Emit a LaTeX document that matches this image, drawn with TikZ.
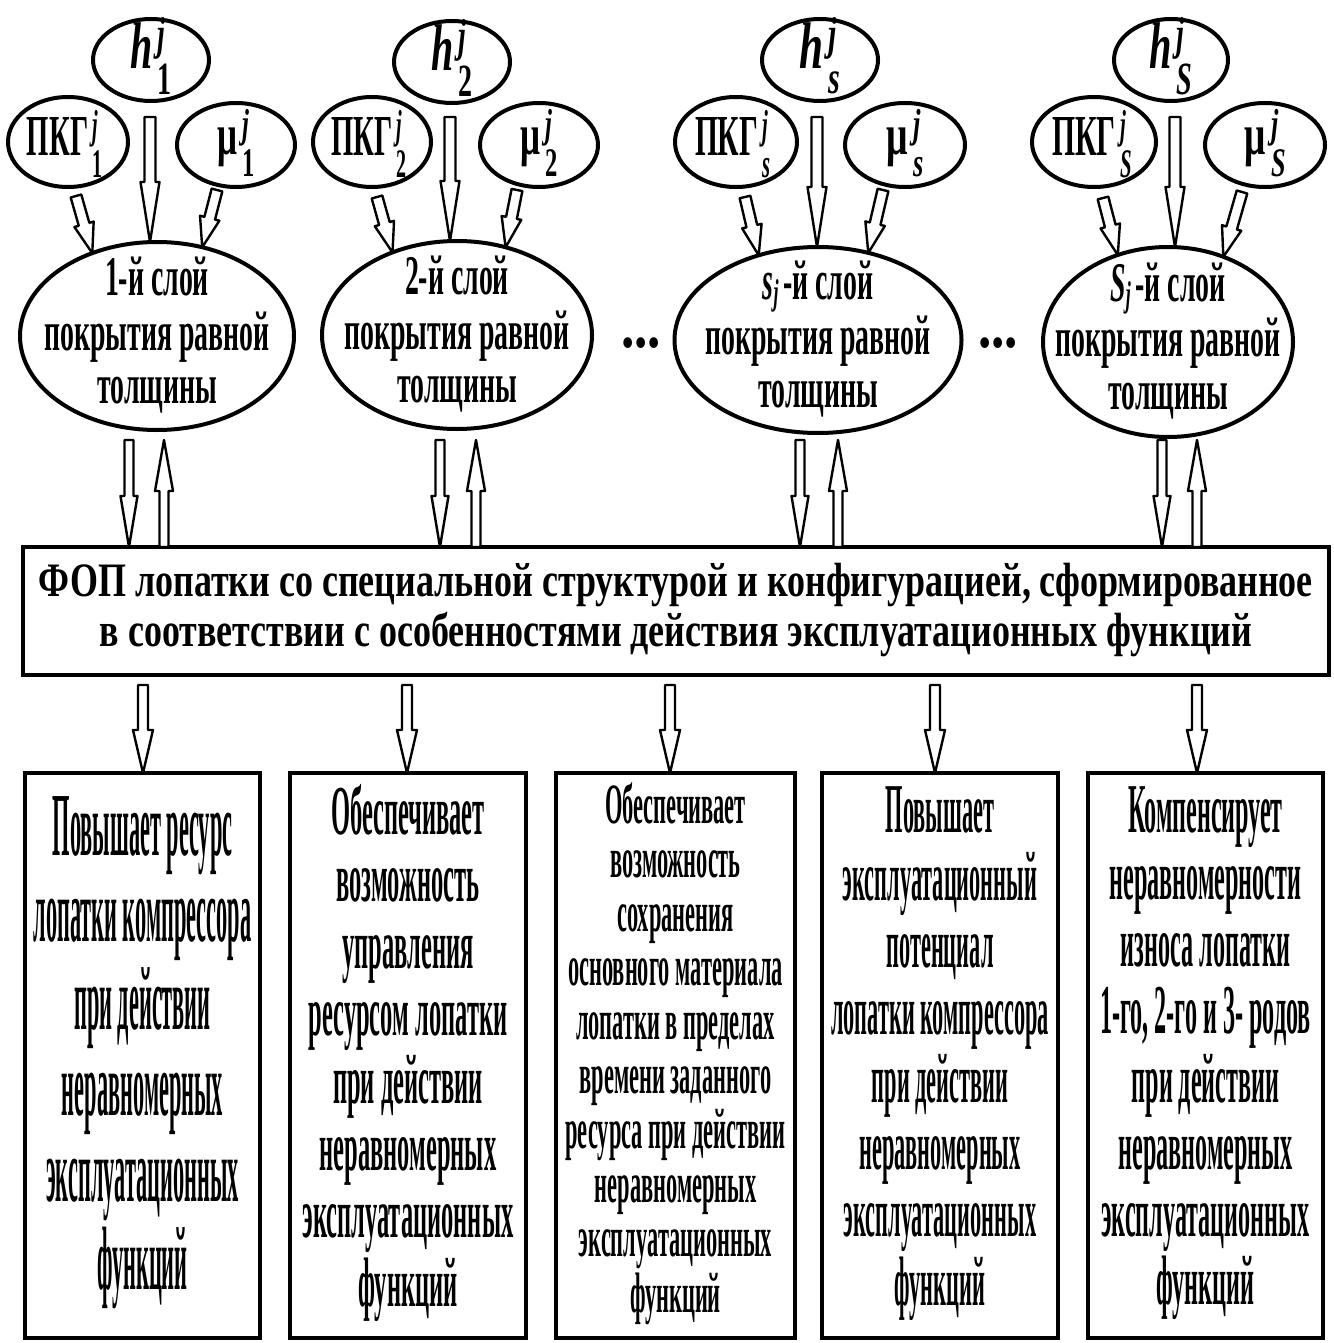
\documentclass[tikz,border=0pt]{standalone}
\usepackage{fontspec}
\setmainfont{Liberation Serif}
\usepackage{amsmath}
\usepackage{graphicx}
\usetikzlibrary{shapes.geometric,calc}

% squeeze a block horizontally to a given width, keeping its height
\newcommand\fitwidth[2]{\resizebox{#1}{\height}{#2}}
% centred stack of lines
\newcommand\stacklines[1]{\begin{tabular}{@{}c@{}}#1\end{tabular}}
% symbol with superscript j and a subscript
\newcommand\symidx[2]{#1\kern9pt\(^{\text{\itshape j}}_{\text{#2\vphantom{1}}}\)}
% small italic j set as a subscript of a layer number
\newcommand\subj{\raisebox{-5pt}{\fontsize{36}{36}\selectfont\itshape j}}

% hollow block arrow from #1 (tail) to #2 (tip)
% #3 shaft half-width, #4 head half-width, #5 head length
\newcommand\blockarrow[5]{%
  \path ($(#2)!#5!(#1)$) coordinate (headbase);
  \draw[hollow] ($(#1)!#3!90:(#2)$) -- ($(headbase)!#3!90:(#2)$)
    -- ($(headbase)!#4!90:(#2)$) -- (#2)
    -- ($(headbase)!#4!-90:(#2)$) -- ($(headbase)!#3!-90:(#2)$)
    -- ($(#1)!#3!-90:(#2)$) -- cycle;}

\begin{document}
\begin{tikzpicture}[x=1pt,y=-1pt,
  oval/.style={ellipse, draw, line width=4pt, inner sep=0pt, outer sep=0pt},
  frame/.style={rectangle, draw, line width=4.5pt, inner sep=0pt, outer sep=0pt, font=\bfseries},
  txt/.style={inner sep=0pt, font=\bfseries},
  hollow/.style={draw, fill=white, line width=2.4pt, line join=round}]

\fill[white] (0,0) rectangle (1333,1343);
\useasboundingbox (0,0) rectangle (1333,1343);

% ---------- layer groups ----------
% group 1
\node[oval, minimum width=116pt, minimum height=82pt] (h1) at (151,60) {};
\node[oval, minimum width=120pt, minimum height=90pt] (p1) at (68,142) {};
\node[oval, minimum width=118pt, minimum height=84pt] (m1) at (236,145) {};
\node[oval, minimum width=274pt, minimum height=188pt] (L1) at (157,336) {};
\node[txt] (h1t) at (151,56) {\fitwidth{42pt}{\fontsize{66}{66}\selectfont\symidx{\textit{h}}{1}}};
\node[txt] (p1t) at (65,144) {\fitwidth{76pt}{\fontsize{58}{58}\selectfont\symidx{ПКГ}{1}}};
\node[txt] (m1t) at (236,143) {\fitwidth{38pt}{\fontsize{58}{58}\selectfont\symidx{μ}{1}}};
\node[txt] (L1t) at (157,338) {\fitwidth{225pt}{\fontsize{56}{53}\selectfont\stacklines{1-й слой\\покрытия равной\\толщины}}};

% group 2
\node[oval, minimum width=116pt, minimum height=82pt] (h2) at (452,62) {};
\node[oval, minimum width=118pt, minimum height=90pt] (p2) at (372,142) {};
\node[oval, minimum width=118pt, minimum height=84pt] (m2) at (539,145) {};
\node[oval, minimum width=270pt, minimum height=188pt] (L2) at (457,335) {};
\node[txt] (h2t) at (452,58) {\fitwidth{42pt}{\fontsize{66}{66}\selectfont\symidx{\textit{h}}{2}}};
\node[txt] (p2t) at (369,144) {\fitwidth{76pt}{\fontsize{58}{58}\selectfont\symidx{ПКГ}{2}}};
\node[txt] (m2t) at (539,143) {\fitwidth{38pt}{\fontsize{58}{58}\selectfont\symidx{μ}{2}}};
\node[txt] (L2t) at (457,337) {\fitwidth{225pt}{\fontsize{56}{53}\selectfont\stacklines{2-й слой\\покрытия равной\\толщины}}};

% group 3
\node[oval, minimum width=116pt, minimum height=82pt] (h3) at (820,60) {};
\node[oval, minimum width=122pt, minimum height=90pt] (p3) at (736,142) {};
\node[oval, minimum width=120pt, minimum height=84pt] (m3) at (905,145) {};
\node[oval, minimum width=287pt, minimum height=186pt] (L3) at (818,340) {};
\node[txt] (h3t) at (820,56) {\fitwidth{42pt}{\fontsize{66}{66}\selectfont\symidx{\textit{h}}{\itshape s}}};
\node[txt] (p3t) at (733,144) {\fitwidth{76pt}{\fontsize{58}{58}\selectfont\symidx{ПКГ}{\itshape s}}};
\node[txt] (m3t) at (905,143) {\fitwidth{38pt}{\fontsize{58}{58}\selectfont\symidx{μ}{\itshape s}}};
\node[txt] (L3t) at (818,342) {\fitwidth{225pt}{\fontsize{56}{53}\selectfont\stacklines{\textit{s}\subj\,-й слой\\покрытия равной\\толщины}}};

% group 4
\node[oval, minimum width=114pt, minimum height=82pt] (h4) at (1171,60) {};
\node[oval, minimum width=124pt, minimum height=90pt] (p4) at (1094,142) {};
\node[oval, minimum width=120pt, minimum height=84pt] (m4) at (1265,145) {};
\node[oval, minimum width=250pt, minimum height=190pt] (L4) at (1168,342) {};
\node[txt] (h4t) at (1171,56) {\fitwidth{44pt}{\fontsize{66}{66}\selectfont\symidx{\textit{h}}{\itshape S}}};
\node[txt] (p4t) at (1092,144) {\fitwidth{80pt}{\fontsize{58}{58}\selectfont\symidx{ПКГ}{\itshape S}}};
\node[txt] (m4t) at (1265,143) {\fitwidth{42pt}{\fontsize{58}{58}\selectfont\symidx{μ}{\itshape S}}};
\node[txt] (L4t) at (1168,344) {\fitwidth{225pt}{\fontsize{56}{53}\selectfont\stacklines{\textit{S}\subj\,-й слой\\покрытия равной\\толщины}}};

% ellipsis marks between groups
\node[txt] (dotsA) at (641,343) {\fitwidth{40pt}{\fontsize{66}{66}\selectfont...}};
\node[txt] (dotsB) at (998,343) {\fitwidth{40pt}{\fontsize{66}{66}\selectfont...}};

% ---------- central block ----------
\node[frame, minimum width=1306pt, minimum height=128pt] (F) at (676,611)
  {\fitwidth{1274pt}{\fontsize{48}{50}\selectfont\stacklines{ФОП лопатки со специальной структурой и конфигурацией, сформированное\\в соответствии с особенностями действия эксплуатационных функций}}};

% ---------- result blocks ----------
\node[frame, minimum width=235pt, minimum height=565pt] (B1) at (142.5,1055.5)
  {\fitwidth{218pt}{\fontsize{90}{86}\selectfont\stacklines{Повышает ресурс\\лопатки компрессора\\при действии\\неравномерных\\эксплуатационных\\функций}}};
\node[frame, minimum width=236pt, minimum height=565pt] (B2) at (408,1055.5)
  {\fitwidth{211pt}{\fontsize{70}{67}\selectfont\stacklines{Обеспечивает\\возможность\\управления\\ресурсом лопатки\\при действии\\неравномерных\\эксплуатационных\\функций}}};
\node[frame, minimum width=239pt, minimum height=565pt] (B3) at (675.5,1055.5)
  {\fitwidth{220pt}{\fontsize{57}{54}\selectfont\stacklines{Обеспечивает\\возможность\\сохранения\\основного материала\\лопатки в пределах\\времени заданного\\ресурса при действии\\неравномерных\\эксплуатационных\\функций}}};
\node[frame, minimum width=236pt, minimum height=565pt] (B4) at (940,1055.5)
  {\fitwidth{218pt}{\fontsize{70}{67}\selectfont\stacklines{Повышает\\эксплуатационный\\потенциал\\лопатки компрессора\\при действии\\неравномерных\\эксплуатационных\\функций}}};
\node[frame, minimum width=235pt, minimum height=565pt] (B5) at (1205.5,1055.5)
  {\fitwidth{211pt}{\fontsize{70}{67}\selectfont\stacklines{Компенсирует\\неравномерности\\износа лопатки\\1-го, 2-го и 3- родов\\при действии\\неравномерных\\эксплуатационных\\функций}}};

% ---------- arrow end points ----------
\coordinate (ha1) at (150,117);  \coordinate (hb1) at (150,0 |- L1.north);
\coordinate (ha2) at (450,117);  \coordinate (hb2) at (450,0 |- L2.north);
\coordinate (ha3) at (817,117);  \coordinate (hb3) at (817,0 |- L3.north);
\coordinate (ha4) at (1175,117); \coordinate (hb4) at (1175,0 |- L4.north);
\coordinate (pa1) at (76,196);   \coordinate (ma1) at (217,190);
\coordinate (pa2) at (377,197);  \coordinate (ma2) at (517,190);
\coordinate (pa3) at (745,197);  \coordinate (ma3) at (883,190);
\coordinate (pa4) at (1103,198); \coordinate (ma4) at (1242,192);

% inputs of each layer
\blockarrow{ha1}{hb1}{5.5pt}{9.5pt}{60pt}
\blockarrow{ha2}{hb2}{5.5pt}{9.5pt}{60pt}
\blockarrow{ha3}{hb3}{5.5pt}{9.5pt}{60pt}
\blockarrow{ha4}{hb4}{5.5pt}{9.5pt}{60pt}
\blockarrow{pa1}{L1.128}{5.5pt}{10pt}{30pt}
\blockarrow{ma1}{L1.63}{5.5pt}{10pt}{30pt}
\blockarrow{pa2}{L2.128}{5.5pt}{10pt}{30pt}
\blockarrow{ma2}{L2.61}{5.5pt}{10pt}{30pt}
\blockarrow{pa3}{L3.125}{5.5pt}{10pt}{30pt}
\blockarrow{ma3}{L3.60}{5.5pt}{10pt}{30pt}
\blockarrow{pa4}{L4.120}{5.5pt}{10pt}{30pt}
\blockarrow{ma4}{L4.57}{5.5pt}{10pt}{30pt}

% two-way links between layers and the central block
\coordinate (da1) at (129,440);  \coordinate (db1) at (129,0 |- F.north);
\coordinate (ua1) at (164,0 |- F.north); \coordinate (ub1) at (164,440);
\coordinate (da2) at (440,440);  \coordinate (db2) at (440,0 |- F.north);
\coordinate (ua2) at (476,0 |- F.north); \coordinate (ub2) at (476,440);
\coordinate (da3) at (800,440);  \coordinate (db3) at (800,0 |- F.north);
\coordinate (ua3) at (838,0 |- F.north); \coordinate (ub3) at (838,440);
\coordinate (da4) at (1162,440); \coordinate (db4) at (1162,0 |- F.north);
\coordinate (ua4) at (1197,0 |- F.north); \coordinate (ub4) at (1197,440);
\foreach \i in {1,2,3,4}{
  \blockarrow{da\i}{db\i}{4.5pt}{8.5pt}{51pt}
  \blockarrow{ua\i}{ub\i}{4.5pt}{9pt}{51pt}
}

% outputs of the central block
\coordinate (oa1) at (143,685);  \coordinate (ob1) at (143,0 |- B1.north);
\coordinate (oa2) at (407,685);  \coordinate (ob2) at (407,0 |- B2.north);
\coordinate (oa3) at (670,685);  \coordinate (ob3) at (670,0 |- B3.north);
\coordinate (oa4) at (935,685);  \coordinate (ob4) at (935,0 |- B4.north);
\coordinate (oa5) at (1197,685); \coordinate (ob5) at (1197,0 |- B5.north);
\foreach \i in {1,...,5}{
  \blockarrow{oa\i}{ob\i}{5pt}{10pt}{43pt}
}
\end{tikzpicture}
\end{document}
